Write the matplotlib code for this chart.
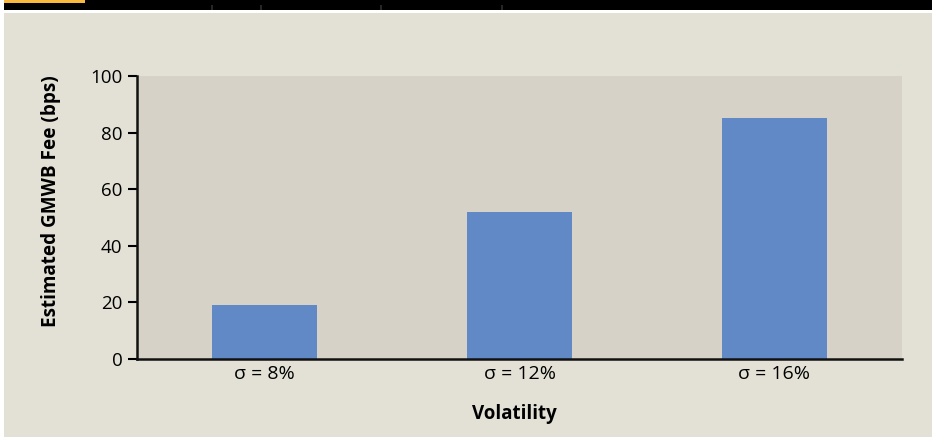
import matplotlib.pyplot as plt
from matplotlib.patches import Rectangle

# GMWB fee estimates by volatility level
categories = ["σ = 8%", "σ = 12%", "σ = 16%"]
fees = [19, 52, 85]
yticks = [0, 20, 40, 60, 80, 100]

plt.rcParams['font.family'] = ['Open Sans', 'DejaVu Sans']

W, H = 932, 437
fig = plt.figure(figsize=(W / 100, H / 100), dpi=100, facecolor='white')

# page furniture: black header band with orange accent, beige panel
def px_rect(x0, y0, x1, y1, color):
    fig.patches.append(Rectangle((x0 / W, 1 - y1 / H), (x1 - x0) / W, (y1 - y0) / H,
                                 transform=fig.transFigure, facecolor=color,
                                 edgecolor='none', zorder=-10))

px_rect(4, 0, W, 9.5, 'black')
px_rect(4, 0, 85, 3, '#f9b83e')
for tx in [212, 261, 381, 502]:
    px_rect(tx - 1, 5, tx + 1, 9.5, '#262626')
px_rect(4, 13, W, H, '#e3e1d6')

ax = fig.add_axes([137 / W, 1 - 359 / H, 765 / W, 283 / H])
ax.set_facecolor('#d6d2c8')

x = range(len(categories))
ax.bar(x, fees, width=0.41, color='#6089c6', zorder=2)

ax.set_xlim(-0.5, 2.5)
ax.set_ylim(0, 100)
ax.set_yticks(yticks)
ax.set_xticks(list(x))
ax.set_xticklabels(categories, fontsize=14)
ax.tick_params(axis='x', length=0, pad=4)
ax.tick_params(axis='y', length=6.5, width=1.5, pad=4, labelsize=13.5)

for side in ['top', 'right']:
    ax.spines[side].set_visible(False)
for side in ['left', 'bottom']:
    ax.spines[side].set_linewidth(1.8)
    ax.spines[side].set_color('#111111')

ax.set_ylabel('Estimated GMWB Fee (bps)', fontsize=13.6, fontweight='bold')
ax.yaxis.set_label_coords(-(137 - 61) / 765, (359 - 201) / 283)
ax.set_xlabel('Volatility', fontsize=13.5, fontweight='bold')
ax.xaxis.set_label_coords((514 - 137) / 765, -(404 - 359) / 283)

fig.savefig('out.png', dpi=100, facecolor=fig.get_facecolor())
